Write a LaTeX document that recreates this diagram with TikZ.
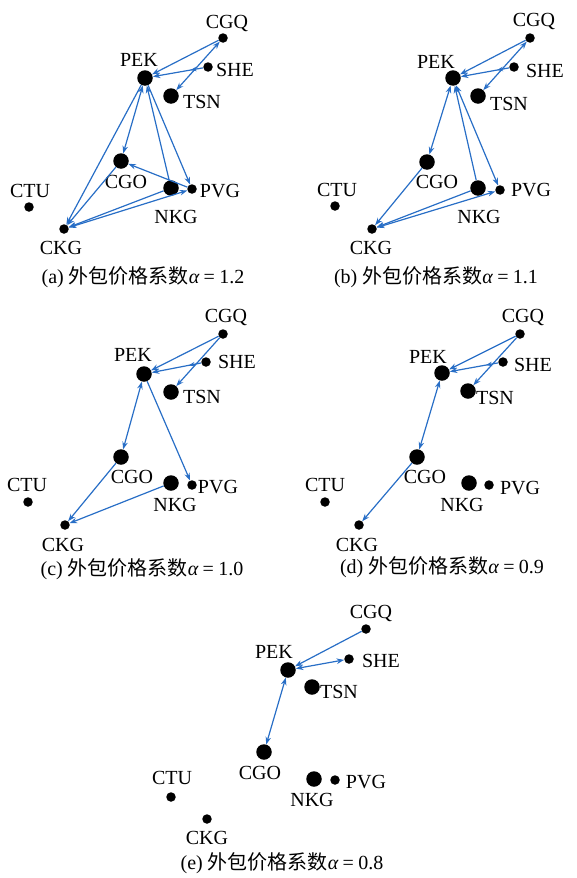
\documentclass[tikz,border=0pt]{standalone}
\usepackage{fontspec}
\setmainfont{Liberation Serif}
\newfontfamily\cjk{Noto Sans CJK SC}
\usetikzlibrary{arrows.meta,decorations.markings}
\definecolor{eblue}{RGB}{40,110,198}
\newcommand{\labfont}{\fontsize{20}{22}\selectfont}
\newcommand{\apt}[7]{%
  \node[#3] (#1#2) at (#4,#5) {};
  \node[lab] (#1#2l) at (#6,#7) {#2};}
\newcommand{\captxt}[2]{(#1) {\cjk 外包价格系数}{\itshape α}\hspace{0.22em}=\hspace{0.22em}#2}
\tikzset{
  big/.style={circle,fill=black,inner sep=0pt,minimum size=15.5pt},
  small/.style={circle,fill=black,inner sep=0pt,minimum size=9.5pt},
  lab/.style={font=\labfont,inner sep=0pt},
  captn/.style={font=\labfont,inner sep=0pt},
  tipa/.tip={Stealth[length=7.5pt,width=5.5pt]},
  ed/.style={draw=eblue,line width=1.2pt,-tipa},
  ded/.style={draw=eblue,line width=1.2pt,tipa-tipa},
  midmark/.style={postaction=decorate,decoration={markings,
    mark=at position #1 with {\arrow[eblue]{Stealth[length=6pt,width=4.5pt]}}}}
}
\begin{document}
\begin{tikzpicture}[x=1pt,y=-1pt]
\useasboundingbox (0,0) rectangle (576,878);
% ---------- (a) ----------
\apt{a}{CGQ}{small}{223}{38}{227}{23}
\apt{a}{PEK}{big}{145}{78}{139}{60}
\apt{a}{SHE}{small}{208}{67}{235}{70}
\apt{a}{TSN}{big}{171}{96}{202}{102}
\apt{a}{CGO}{big}{121}{161}{126}{182}
\apt{a}{NKG}{big}{171}{188}{176}{217}
\apt{a}{PVG}{small}{192}{189}{220}{191}
\apt{a}{CTU}{small}{29}{207}{30}{191}
\apt{a}{CKG}{small}{64}{229}{61}{248}
\node[captn] (acap) at (143,277) {\captxt{a}{1.2}};
\draw[ed] (aCGQ) -- (aPEK);
\draw[ed,midmark=0.25] (aSHE) -- (aPEK);
\draw[ded] (aTSN) -- (aCGQ);
\draw[ded] (aPEK) -- (aCGO);
\draw[ed] (aPEK) -- (aCKG);
\draw[ed] (aNKG) -- (aPEK);
\draw[ed] (aPEK) -- (aPVG);
\draw[ed] (aPVG) -- (aCGO);
\draw[ed] (aCGO) -- (aCKG);
\draw[ed] (aNKG) -- (aCKG);
\draw[ded] (aCKG) -- (aPVG);
% ---------- (b) ----------
\apt{b}{CGQ}{small}{530}{38}{534}{22}
\apt{b}{PEK}{big}{453}{78}{436}{62}
\apt{b}{SHE}{small}{514}{67}{545}{71}
\apt{b}{TSN}{big}{478}{96}{509}{104}
\apt{b}{CGO}{big}{427}{162}{437}{182}
\apt{b}{NKG}{big}{478}{188}{479}{217}
\apt{b}{PVG}{small}{500}{190}{531}{190}
\apt{b}{CTU}{small}{335}{206}{337}{190}
\apt{b}{CKG}{small}{372}{229}{371}{248}
\node[captn] (bcap) at (436,277) {\captxt{b}{1.1}};
\draw[ed] (bCGQ) -- (bPEK);
\draw[ed,midmark=0.25] (bSHE) -- (bPEK);
\draw[ded] (bTSN) -- (bCGQ);
\draw[ded] (bPEK) -- (bCGO);
\draw[ed] (bNKG) -- (bPEK);
\draw[ded] (bPEK) -- (bPVG);
\draw[ed] (bCGO) -- (bCKG);
\draw[ed] (bNKG) -- (bCKG);
\draw[ded] (bCKG) -- (bPVG);
% ---------- (c) ----------
\apt{c}{CGQ}{small}{223}{334}{226}{317}
\apt{c}{PEK}{big}{144}{374}{133}{355}
\apt{c}{SHE}{small}{206}{362}{237}{362}
\apt{c}{TSN}{big}{171}{392}{202}{397}
\apt{c}{CGO}{big}{121}{457}{132}{477}
\apt{c}{NKG}{big}{171}{483}{175}{505}
\apt{c}{PVG}{small}{192}{485}{218}{487}
\apt{c}{CTU}{small}{28}{502}{27}{485}
\apt{c}{CKG}{small}{65}{525}{63}{545}
\node[captn] (ccap) at (142,569) {\captxt{c}{1.0}};
\draw[ed] (cCGQ) -- (cPEK);
\draw[ed,midmark=0.25] (cSHE) -- (cPEK);
\draw[ed] (cCGQ) -- (cTSN);
\draw[ded] (cPEK) -- (cCGO);
\draw[ed] (cPEK) -- (cPVG);
\draw[ed] (cCGO) -- (cCKG);
\draw[ed] (cNKG) -- (cCKG);
% ---------- (d) ----------
\apt{d}{CGQ}{small}{520}{334}{523}{317}
\apt{d}{PEK}{big}{442}{373}{428}{357}
\apt{d}{SHE}{small}{503}{362}{533}{365}
\apt{d}{TSN}{big}{468}{391}{495}{398}
\apt{d}{CGO}{big}{417}{457}{425}{477}
\apt{d}{NKG}{big}{469}{483}{462}{505}
\apt{d}{PVG}{small}{489}{485}{520}{488}
\apt{d}{CTU}{small}{325}{502}{325}{485}
\apt{d}{CKG}{small}{359}{525}{357}{545}
\node[captn] (dcap) at (442,567) {\captxt{d}{0.9}};
\draw[ed] (dCGQ) -- (dPEK);
\draw[ed,midmark=0.25] (dSHE) -- (dPEK);
\draw[ed] (dCGQ) -- (dTSN);
\draw[ded] (dPEK) -- (dCGO);
\draw[ed] (dCGO) -- (dCKG);
% ---------- (e) ----------
\apt{e}{CGQ}{small}{366}{629}{371}{613}
\apt{e}{PEK}{big}{288}{670}{274}{652}
\apt{e}{SHE}{small}{349}{659}{381}{661}
\apt{e}{TSN}{big}{312}{687}{339}{692}
\apt{e}{CGO}{big}{264}{752}{260}{773}
\apt{e}{NKG}{big}{314}{779}{312}{800}
\apt{e}{PVG}{small}{335}{780}{366}{782}
\apt{e}{CTU}{small}{171}{797}{172}{778}
\apt{e}{CKG}{small}{207}{819}{207}{838}
\node[captn] (ecap) at (282,863) {\captxt{e}{0.8}};
\draw[ed] (eCGQ) -- (ePEK);
\draw[ded] (ePEK) -- (eSHE);
\draw[ded] (ePEK) -- (eCGO);
\end{tikzpicture}
\end{document}
